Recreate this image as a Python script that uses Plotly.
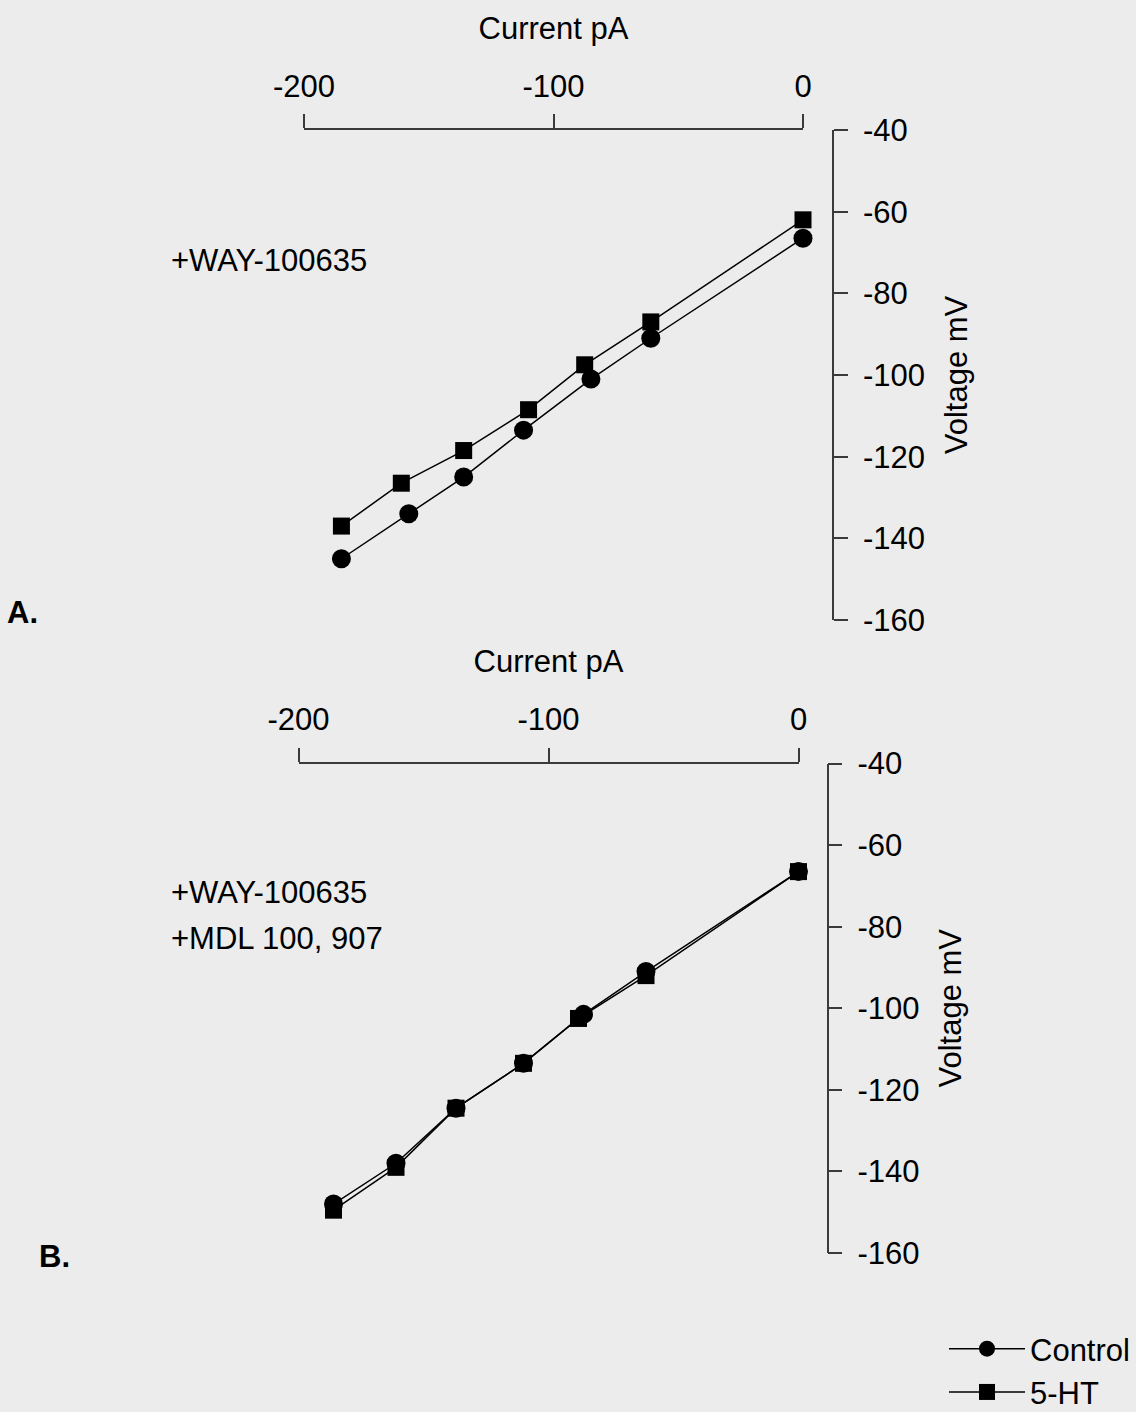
import plotly.graph_objects as go

# Current-voltage relations, panel A (+WAY-100635)
current_ctrl_a = [-185, -158, -136, -112, -85, -61, 0]
voltage_ctrl_a = [-145, -134, -125, -113.5, -101, -91, -66.5]
current_5ht_a = [-185, -161, -136, -110, -87.5, -61, 0]
voltage_5ht_a = [-137, -126.5, -118.5, -108.5, -97.5, -87, -62]

# Panel B (+WAY-100635 +MDL 100,907)
current_ctrl_b = [-186, -161, -137, -110, -86, -61, 0]
voltage_ctrl_b = [-148, -138, -124.5, -113.5, -101.5, -91, -66.5]
current_5ht_b = [-186, -161, -137, -110, -88, -61, 0]
voltage_5ht_b = [-149.5, -139, -124.5, -113.5, -102.5, -92, -66.5]

current_ticks = [-200, -100, 0]
voltage_ticks = [-40, -60, -80, -100, -120, -140, -160]

W, H = 1136, 1412
BG = "#ececec"
FONT = "Liberation Sans, Arial, sans-serif"
FS = 31
AX = "#3a3a3a"


def px_x(p):
    return p / W


def px_y(p):
    return 1 - p / H


fig = go.Figure()

series = [
    ("Control", "circle", 19),
    ("5-HT", "square", 17),
]

panels = [
    ("x", "y", [(current_ctrl_a, voltage_ctrl_a), (current_5ht_a, voltage_5ht_a)], True),
    ("x2", "y2", [(current_ctrl_b, voltage_ctrl_b), (current_5ht_b, voltage_5ht_b)], False),
]

for xa, ya, data, show in panels:
    for (name, sym, size), (cx, vy) in zip(series, data):
        fig.add_trace(go.Scatter(
            x=cx, y=vy, xaxis=xa, yaxis=ya,
            mode="lines+markers", name=name, legendgroup=name,
            showlegend=show, cliponaxis=False,
            line=dict(color="black", width=1.5),
            marker=dict(symbol=sym, size=size, color="black"),
        ))

# hyphen-minus tick labels, as typeset on the axes
current_labels = [str(v) for v in current_ticks]
voltage_labels = [str(v) for v in voltage_ticks]

common_x = dict(
    range=[-200, 0], side="top", showline=True, linecolor=AX, linewidth=1.5,
    ticks="outside", ticklen=14, tickwidth=1.5, tickcolor=AX,
    tickvals=current_ticks, ticktext=current_labels,
    showgrid=False, zeroline=False, automargin=False, ticklabelstandoff=5,
    tickfont=dict(family=FONT, size=FS, color="black"),
    title=dict(text="Current pA", font=dict(family=FONT, size=FS, color="black"), standoff=20),
)
common_y = dict(
    range=[-160, -40], side="right", showline=True, linecolor=AX, linewidth=1.5,
    ticks="outside", ticklen=14, tickwidth=1.5, tickcolor=AX,
    tickvals=voltage_ticks, ticktext=voltage_labels,
    showgrid=False, zeroline=False, anchor="free", automargin=False,
    tickfont=dict(family=FONT, size=FS, color="black"), ticklabelstandoff=9,
    title=dict(text="Voltage mV", font=dict(family=FONT, size=FS, color="black"), standoff=20),
)

fig.update_layout(
    width=W, height=H, margin=dict(l=0, r=0, t=0, b=0, autoexpand=False),
    paper_bgcolor=BG, plot_bgcolor=BG,
    xaxis=dict(common_x, domain=[px_x(304), px_x(803)], anchor="y"),
    yaxis=dict(common_y, domain=[px_y(620), px_y(130)], position=px_x(833)),
    xaxis2=dict(common_x, domain=[px_x(298.5), px_x(798.5)], anchor="y2"),
    yaxis2=dict(common_y, domain=[px_y(1253), px_y(763.5)], position=px_x(827.5)),
    showlegend=True,
    legend=dict(
        x=px_x(944), y=px_y(1322), xanchor="left", yanchor="top",
        bgcolor="rgba(0,0,0,0)", font=dict(family=FONT, size=FS, color="black"),
        itemwidth=76, tracegroupgap=0,
    ),
)

notes = [
    ("<b>A.</b>", 5, 612),
    ("<b>B.</b>", 37, 1256),
    ("+WAY-100635", 169, 260),
    ("+WAY-100635", 169, 892),
    ("+MDL 100, 907", 169, 938),
]
for text, x, y in notes:
    fig.add_annotation(
        text=text, x=px_x(x), y=px_y(y), xref="paper", yref="paper",
        xanchor="left", yanchor="middle", showarrow=False,
        font=dict(family=FONT, size=FS, color="black"),
    )

fig.write_html("out.html")
